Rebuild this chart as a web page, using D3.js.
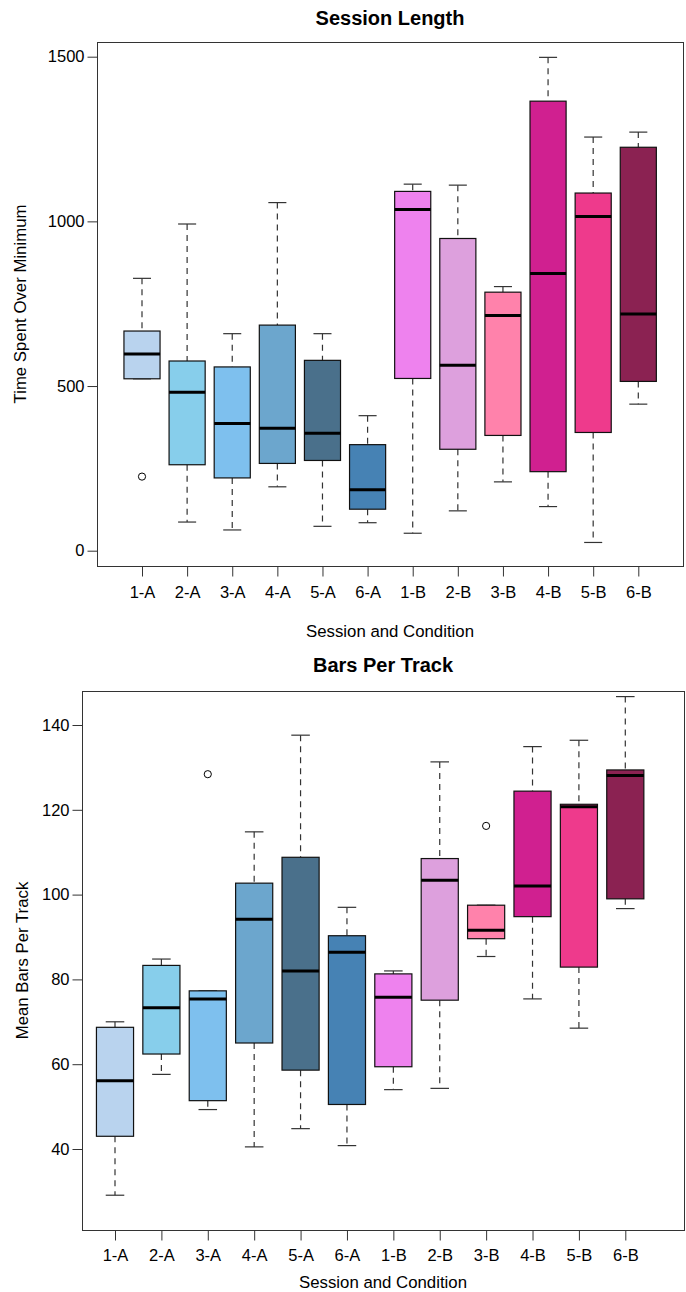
<!DOCTYPE html>
<html>
<head>
<meta charset="utf-8">
<script src="https://cdn.jsdelivr.net/npm/d3@7"></script>
<style>
  body { margin: 0; background: #fff; }
  svg { display: block; font-family: "Liberation Sans", Arial, Helvetica, sans-serif; }
</style>
</head>
<body>
<div id="chart"></div>
<script>
var groups = ["1-A", "2-A", "3-A", "4-A", "5-A", "6-A", "1-B", "2-B", "3-B", "4-B", "5-B", "6-B"];
var boxColors = ["#B9D3EE", "#87CEEB", "#7EC0EE", "#6CA6CD", "#4A708B", "#4682B4",
                 "#EE82EE", "#DDA0DD", "#FF82AB", "#D02090", "#EE3A8C", "#8B2252"];

// Session Length
var lenLow  = [522, 87, 63, 194, 74, 85, 53, 121, 209, 134, 25, 445];
var lenQ1   = [522, 261, 221, 265, 274, 126, 523, 308, 350, 240, 359, 514];
var lenMed  = [597, 481, 386, 372, 357, 185, 1036, 563, 714, 842, 1015, 719];
var lenQ3   = [667, 576, 558, 685, 578, 322, 1091, 948, 785, 1365, 1086, 1225];
var lenHigh = [827, 992, 659, 1057, 659, 410, 1113, 1110, 802, 1498, 1256, 1271];
var lenOut  = [[0, 225]];
var lenTicks = [0, 500, 1000, 1500];

// Bars Per Track
var barLow  = [29.1, 57.6, 49.3, 40.5, 44.8, 40.8, 54.0, 54.3, 85.4, 75.4, 68.5, 96.7];
var barQ1   = [43.0, 62.4, 51.4, 65.0, 58.6, 50.5, 59.4, 75.1, 89.6, 94.8, 82.9, 99.0];
var barMed  = [56.1, 73.3, 75.4, 94.2, 82.0, 86.4, 75.8, 103.4, 91.6, 102.0, 120.7, 128.1];
var barQ3   = [68.7, 83.3, 77.3, 102.7, 108.8, 90.3, 81.3, 108.5, 97.5, 124.4, 121.3, 129.4];
var barHigh = [70.0, 84.8, 77.3, 114.8, 137.6, 97.0, 82.0, 131.3, 97.5, 134.9, 136.4, 146.7];
var barOut  = [[2, 128.4], [8, 116.2]];
var barTicks = [40, 60, 80, 100, 120, 140];

var svg = d3.select("#chart").append("svg")
    .attr("width", 686)
    .attr("height", 1292);

function drawPanel(opt){
    var g = svg.append("g");
    var x = d3.scaleLinear().domain([1, 12]).range(opt.xRange);
    var y = d3.scaleLinear().domain(opt.yDomain).range(opt.yRange);
    var bw = (x(2) - x(1)) * 0.8;

    var rows = groups.map(function(k, i){
        return {key: k, i: i + 1, lo: opt.low[i], q1: opt.q1[i], med: opt.med[i],
                q3: opt.q3[i], hi: opt.high[i], color: boxColors[i]};
    });

    var box = g.selectAll(".box").data(rows).enter().append("g").attr("class", "box");

    // whiskers (dashed, like lty=2)
    box.append("line")
        .attr("x1", function(d){ return x(d.i); }).attr("x2", function(d){ return x(d.i); })
        .attr("y1", function(d){ return y(d.hi); }).attr("y2", function(d){ return y(d.q3); })
        .attr("stroke", "#333").attr("stroke-width", 1.2).attr("stroke-dasharray", "6,5");
    box.append("line")
        .attr("x1", function(d){ return x(d.i); }).attr("x2", function(d){ return x(d.i); })
        .attr("y1", function(d){ return y(d.q1); }).attr("y2", function(d){ return y(d.lo); })
        .attr("stroke", "#333").attr("stroke-width", 1.2).attr("stroke-dasharray", "6,5");
    ["hi", "lo"].forEach(function(k){
        box.append("line")
            .attr("x1", function(d){ return x(d.i) - bw / 4; })
            .attr("x2", function(d){ return x(d.i) + bw / 4; })
            .attr("y1", function(d){ return y(d[k]); }).attr("y2", function(d){ return y(d[k]); })
            .attr("stroke", "#333").attr("stroke-width", 1.2);
    });

    box.append("rect")
        .attr("x", function(d){ return x(d.i) - bw / 2; })
        .attr("width", bw)
        .attr("y", function(d){ return y(d.q3); })
        .attr("height", function(d){ return y(d.q1) - y(d.q3); })
        .attr("fill", function(d){ return d.color; })
        .attr("stroke", "#111").attr("stroke-width", 1.2);

    box.append("line")
        .attr("x1", function(d){ return x(d.i) - bw / 2; })
        .attr("x2", function(d){ return x(d.i) + bw / 2; })
        .attr("y1", function(d){ return y(d.med); }).attr("y2", function(d){ return y(d.med); })
        .attr("stroke", "#000").attr("stroke-width", 3);

    g.selectAll(".out").data(opt.out).enter().append("circle")
        .attr("cx", function(d){ return x(d[0] + 1); })
        .attr("cy", function(d){ return y(d[1]); })
        .attr("r", 3.6)
        .attr("fill", "none").attr("stroke", "#000");

    // frame
    g.append("rect")
        .attr("x", opt.frame[0] + 0.5).attr("y", opt.frame[1] + 0.5)
        .attr("width", opt.frame[2] - opt.frame[0]).attr("height", opt.frame[3] - opt.frame[1])
        .attr("fill", "none").attr("stroke", "#333");

    // y axis
    var yAxis = d3.axisLeft(y).tickValues(opt.ticks).tickFormat(d3.format("d"))
        .tickSize(10).tickPadding(3);
    var ya = g.append("g")
        .attr("transform", "translate(" + (opt.frame[0] + 0.5) + ",0)")
        .call(yAxis);
    ya.select(".domain").remove();
    ya.selectAll("line").attr("stroke", "#333");
    ya.selectAll("text").attr("font-size", 16.5).attr("fill", "#000")
        .attr("font-family", "'Liberation Sans', Arial, sans-serif");

    // x axis
    var xAxis = d3.axisBottom(x).tickValues(d3.range(1, 13))
        .tickFormat(function(d){ return groups[d - 1]; })
        .tickSize(10).tickPadding(opt.xPad);
    var xa = g.append("g")
        .attr("transform", "translate(0," + (opt.frame[3] + 0.5) + ")")
        .call(xAxis);
    xa.select(".domain").remove();
    xa.selectAll("line").attr("stroke", "#333");
    xa.selectAll("text").attr("font-size", 16.5).attr("fill", "#000")
        .attr("font-family", "'Liberation Sans', Arial, sans-serif");

    var cx = (opt.frame[0] + opt.frame[2]) / 2;
    g.append("text")
        .attr("x", cx).attr("y", opt.titleY)
        .attr("text-anchor", "middle").attr("font-size", 20).attr("font-weight", "bold")
        .text(opt.title);
    g.append("text")
        .attr("x", cx).attr("y", opt.xTitleY)
        .attr("text-anchor", "middle").attr("font-size", 16.8)
        .text("Session and Condition");
    var cy = (opt.frame[1] + opt.frame[3]) / 2;
    g.append("text")
        .attr("transform", "translate(" + opt.yTitleX + "," + cy + ") rotate(-90)")
        .attr("text-anchor", "middle").attr("font-size", 16.8)
        .text(opt.yTitle);
}

drawPanel({
    title: "Session Length", yTitle: "Time Spent Over Minimum",
    low: lenLow, q1: lenQ1, med: lenMed, q3: lenQ3, high: lenHigh, out: lenOut, ticks: lenTicks,
    xRange: [142, 638.3], yDomain: [0, 1500], yRange: [550.7, 56.7],
    frame: [97, 42, 683, 566], titleY: 25, xTitleY: 637, yTitleX: 26, xPad: 10
});

drawPanel({
    title: "Bars Per Track", yTitle: "Mean Bars Per Track",
    low: barLow, q1: barQ1, med: barMed, q3: barQ3, high: barHigh, out: barOut, ticks: barTicks,
    xRange: [115, 625.3], yDomain: [40, 140], yRange: [1149, 725],
    frame: [82, 691, 684, 1230], titleY: 672, xTitleY: 1288, yTitleX: 28, xPad: 9
});
</script>
</body>
</html>
